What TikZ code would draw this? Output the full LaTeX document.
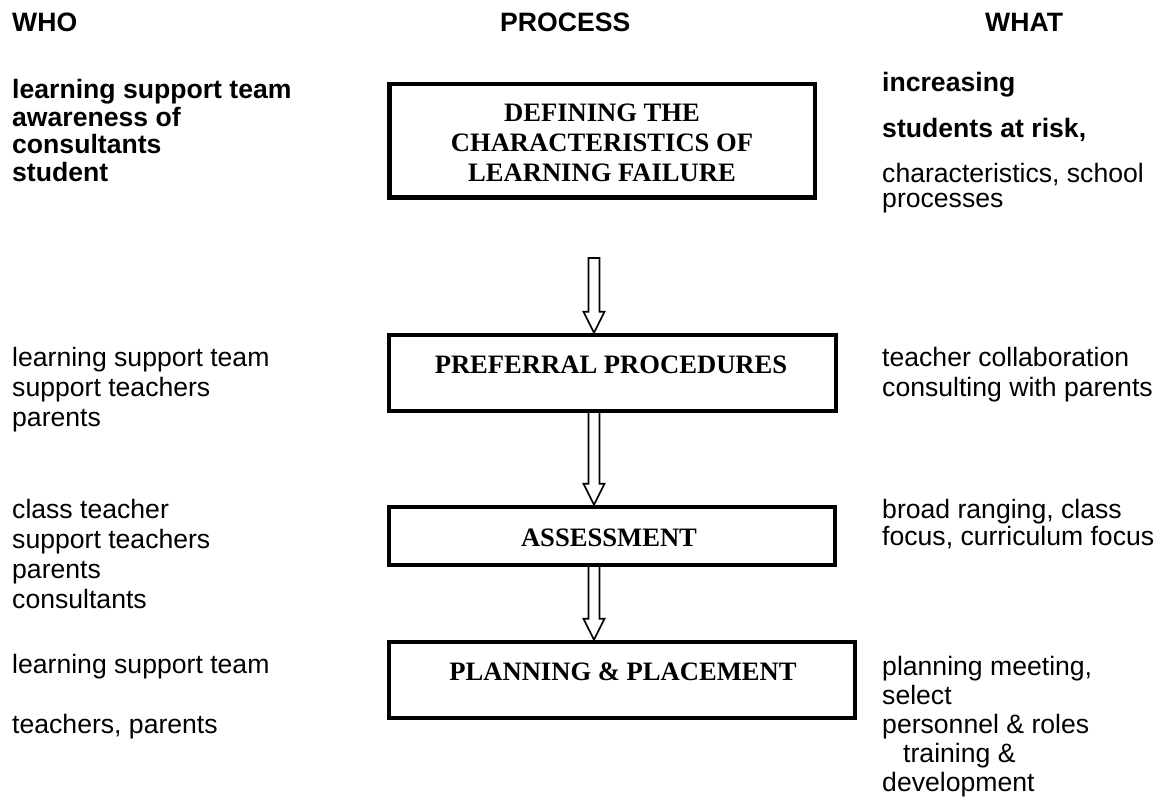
\documentclass[tikz,border=0pt]{standalone}
\usepackage{fontspec}
\setmainfont{Liberation Sans}
\newfontfamily\boxfont{Liberation Serif}
\usetikzlibrary{calc}

% a left-aligned block of lines whose reference point is the first baseline
\newcommand\linestack[1]{\begin{tabular}[t]{@{}l@{}}#1\end{tabular}}

% hollow block arrow from the start point #1 down to the tip #2
\newcommand\blockarrow[2]{%
  \draw[hollow] let \p1=(#1), \p2=(#2) in
    (\x1-5.5pt,\y1) -- (\x1-5.5pt,\y2+21pt) -- (\x1-10.5pt,\y2+21pt) --
    (\x1,\y2) -- (\x1+10.5pt,\y2+21pt) -- (\x1+5.5pt,\y2+21pt) --
    (\x1+5.5pt,\y1) -- cycle;}

\begin{document}
\begin{tikzpicture}[x=1pt,y=-1pt,
  txt/.style={anchor=base west, inner sep=0pt, font=\fontsize{26.6}{30}\selectfont},
  txtbold/.style={txt, font=\fontsize{26.6}{27}\selectfont\bfseries},
  hdr/.style={txt, font=\fontsize{26.6}{30}\selectfont\bfseries},
  stagebox/.style={draw, line width=4.5pt, inner sep=0pt},
  stagetxt/.style={anchor=base, inner sep=0pt, font=\boxfont\bfseries\fontsize{26.6}{30}\selectfont},
  hollow/.style={draw, fill=white, line width=1.6pt, line join=miter}]

\useasboundingbox (0,0) rectangle (1172,802);

% column headings
\node[hdr] (who)  at (12,32)  {WHO};
\node[hdr] (proc) at (500,32) {PROCESS};
\node[hdr] (what) at (985,32) {WHAT};

% arrow start points
\coordinate (a1) at (594,258);
\coordinate (a2) at (594,411);
\coordinate (a3) at (594,565);

% process stages
\node[stagebox, minimum width=425.5pt, minimum height=113.5pt] (b1) at (602,141) {};
\node[stagebox, minimum width=447pt,   minimum height=76pt]    (b2) at (612.5,373) {};
\node[stagebox, minimum width=446pt,   minimum height=58pt]    (b3) at (612,536) {};
\node[stagebox, minimum width=466pt,   minimum height=76pt]    (b4) at (622,680) {};

% connecting arrows, with the borders redrawn on top of their ends
\blockarrow{a1}{a1 |- b2.north}
\blockarrow{a2}{a2 |- b3.north}
\blockarrow{a3}{a3 |- b4.north}

\node[stagebox, minimum width=425.5pt, minimum height=113.5pt] at (b1) {};
\node[stagebox, minimum width=447pt,   minimum height=76pt]    at (b2) {};
\node[stagebox, minimum width=446pt,   minimum height=58pt]    at (b3) {};
\node[stagebox, minimum width=466pt,   minimum height=76pt]    at (b4) {};

\node[stagetxt] (b1l1) at (602,122) {DEFINING THE};
\node[stagetxt] (b1l2) at (602,152) {CHARACTERISTICS OF};
\node[stagetxt] (b1l3) at (602,182) {LEARNING FAILURE};
\node[stagetxt] (b2t)  at (611,373) {PREFERRAL PROCEDURES};
\node[stagetxt] (b3t)  at (609,546) {ASSESSMENT};
\node[stagetxt] (b4t)  at (623,680) {PLANNING \& PLACEMENT};

% who
\node[txtbold] (who1) at (12,99) {\linestack{learning support team\\awareness of\\consultants\\student}};
\node[txt] (who2) at (12,366) {\linestack{learning support team\\support teachers\\parents}};
\node[txt] (who3) at (12,518) {\linestack{class teacher\\support teachers\\parents\\consultants}};
\node[txt] (who4) at (12,673) {\linestack{learning support team\\ \\teachers, parents}};

% what
\node[txtbold] (what1a) at (882,92)  {increasing};
\node[txtbold] (what1b) at (882,138) {students at risk,};
\node[txt, font=\fontsize{26.6}{25}\selectfont] (what1c) at (882,183)
  {\linestack{characteristics, school\\processes}};
\node[txt] (what2) at (882,366) {\linestack{teacher collaboration\\consulting with parents}};
\node[txt, font=\fontsize{26.6}{27}\selectfont] (what3) at (882,518)
  {\linestack{broad ranging, class\\focus, curriculum focus}};
\node[txt, font=\fontsize{26.6}{29}\selectfont] (what4) at (882,675)
  {\linestack{planning meeting,\\select\\personnel \& roles\\\hspace{21pt}training \&\\development}};

\end{tikzpicture}
\end{document}
